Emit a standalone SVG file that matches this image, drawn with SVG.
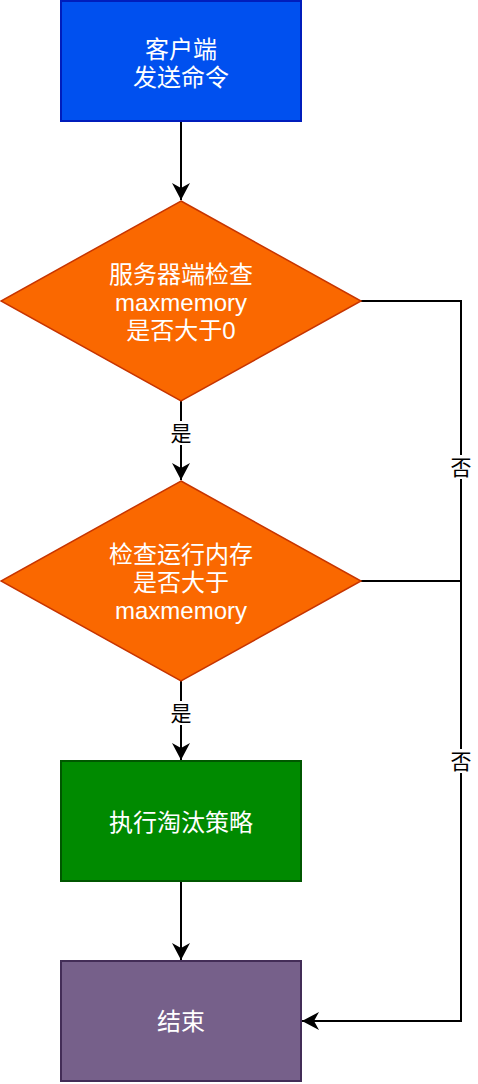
<svg xmlns="http://www.w3.org/2000/svg" width="478" height="1084" viewBox="0 0 478 1084">
<style>
.t{font-family:"Liberation Sans","Noto Sans CJK SC",sans-serif;font-size:24px;fill:#ffffff;text-anchor:middle;dominant-baseline:central}
.l{font-family:"Liberation Sans","Noto Sans CJK SC",sans-serif;font-size:21px;fill:#000000;text-anchor:middle;dominant-baseline:central}
.e{fill:none;stroke:#000000;stroke-width:2}
</style>
<defs>
<marker id="arr" viewBox="0 0 17 18" refX="17" refY="9" markerWidth="17" markerHeight="18" markerUnits="userSpaceOnUse" orient="auto">
<path d="M0,0 L17,9 L0,18 L5,9 Z" fill="#000000"/>
</marker>
</defs>
<rect width="478" height="1084" fill="#ffffff"/>
<g id="connectors">
<path class="e" d="M181,121 L181,200" marker-end="url(#arr)"/>
<path class="e" d="M181,401 L181,480" marker-end="url(#arr)"/>
<path class="e" d="M181,681 L181,760" marker-end="url(#arr)"/>
<path class="e" d="M181,881 L181,960" marker-end="url(#arr)"/>
<path class="e" d="M361,301 L461,301 L461,1021 L302,1021" marker-end="url(#arr)"/>
<path class="e" d="M361,581 L461,581"/>
<rect x="169" y="421" width="24" height="24" fill="#ffffff"/>
<text class="l" x="181" y="433">是</text>
<rect x="169" y="701" width="24" height="24" fill="#ffffff"/>
<text class="l" x="181" y="713">是</text>
<rect x="449" y="455" width="24" height="24" fill="#ffffff"/>
<text class="l" x="461" y="467">否</text>
<rect x="449" y="749" width="24" height="24" fill="#ffffff"/>
<text class="l" x="461" y="761">否</text>
</g>
<g id="start">
<rect x="61" y="1" width="240" height="120" fill="#0050ef" stroke="#001dbc" stroke-width="2"/>
<text class="t" x="181" y="49">客户端</text>
<text class="t" x="181" y="77">发送命令</text>
</g>
<g id="check1">
<polygon points="181,201 361,301 181,401 1,301" fill="#fa6800" stroke="#c73500" stroke-width="1.5"/>
<text class="t" x="181" y="274">服务器端检查</text>
<text class="t" x="181" y="302">maxmemory</text>
<text class="t" x="181" y="330">是否大于0</text>
</g>
<g id="check2">
<polygon points="181,481 361,581 181,681 1,581" fill="#fa6800" stroke="#c73500" stroke-width="1.5"/>
<text class="t" x="181" y="554">检查运行内存</text>
<text class="t" x="181" y="582">是否大于</text>
<text class="t" x="181" y="610">maxmemory</text>
</g>
<g id="evict">
<rect x="61" y="761" width="240" height="120" fill="#008a00" stroke="#005700" stroke-width="2"/>
<text class="t" x="181" y="822">执行淘汰策略</text>
</g>
<g id="end">
<rect x="61" y="961" width="240" height="120" fill="#76608a" stroke="#432d57" stroke-width="2"/>
<text class="t" x="181" y="1021">结束</text>
</g>
</svg>
